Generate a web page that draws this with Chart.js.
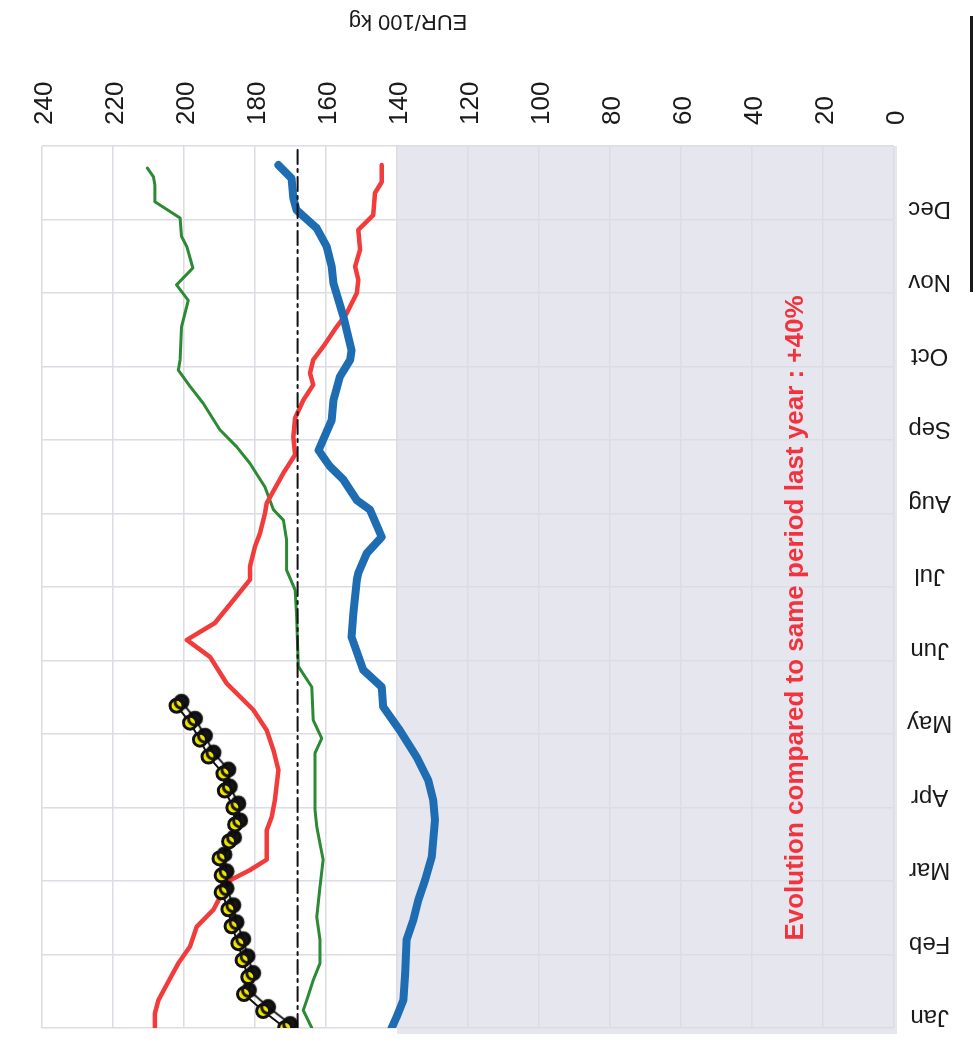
<!DOCTYPE html>
<html>
<head>
<meta charset="utf-8">
<script src="https://cdn.jsdelivr.net/npm/chart.js@4.4.1/dist/chart.umd.min.js"></script>
<style>
  html, body { margin: 0; padding: 0; background: #fff; }
  #wrap { position: relative; width: 977px; height: 1046px; }
  #edge { position: absolute; left: 970px; top: 16px; width: 3px; height: 276px; background: #1a1a1a; }
</style>
</head>
<body>
<div id="wrap">
  <canvas id="chart" width="977" height="1046"></canvas>
  <div id="edge"></div>
</div>
<script>
// the scan is upside down: months run up the right side, prices along the top
const MONTHS = ['Jan', 'Feb', 'Mar', 'Apr', 'May', 'Jun', 'Jul', 'Aug', 'Sep', 'Oct', 'Nov', 'Dec'];
const UNIT = 'EUR/100 kg';
const NOTE = 'Evolution compared to same period last year : +40%';
const REFERENCE_PRICE = 168;
const SHADED_UP_TO = 140;

// current year, weekly (week 1 = start of Jan)
const yellowWeek = [1, 2, 3, 4, 5, 6, 7, 8, 9, 10, 11, 12, 13, 14, 15, 16, 17, 18, 19, 20];
const yellowPrice = [171.5, 177.7, 183.1, 181.9, 183.5, 184.7, 186.6, 187.5, 189.4, 189.4,
  190.0, 187.3, 185.6, 186.1, 188.5, 188.9, 193.1, 195.5, 198.3, 202.1];

// positions in months (0 = 1 Jan, 12 = 31 Dec)
const blueMonth = [0, 0.15, 0.38, 0.74, 1.2, 1.47, 1.74, 2.01, 2.33, 2.83, 3.1, 3.37, 3.69, 4.05,
  4.37, 4.64, 4.87, 5.32, 5.64, 6.1, 6.19, 6.46, 6.68, 7.05, 7.18, 7.46, 7.64, 7.86, 8.27, 8.54,
  8.86, 9.09, 9.22, 9.68, 10.13, 10.36, 10.63, 10.88, 11.13, 11.29, 11.56, 11.74];
const bluePrice = [141.5, 140.1, 138.2, 137.7, 137.3, 135.4, 134.0, 132.1, 130.2, 129.3, 129.8,
  131.2, 134.5, 139.2, 143.9, 144.3, 149.5, 152.8, 152.3, 151.3, 150.9, 148.5, 144.3, 147.6,
  151.3, 155.1, 158.9, 162.1, 158.4, 157.9, 156.1, 153.2, 152.8, 155.1, 157.9, 158.4, 159.8,
  162.6, 168.3, 169.2, 169.7, 173.4];

const redMonth = [0, 0.2, 0.38, 0.65, 0.88, 1.11, 1.38, 1.61, 1.74, 2.01, 2.15, 2.29, 2.69, 2.87,
  3.1, 3.51, 3.78, 4.05, 4.33, 4.69, 5.05, 5.28, 5.51, 5.82, 6.1, 6.28, 6.55, 6.73, 7.0, 7.14,
  7.55, 7.8, 8.04, 8.3, 8.54, 8.75, 8.91, 9.09, 9.27, 9.54, 9.72, 10.0, 10.18, 10.36, 10.59,
  10.86, 11.06, 11.36, 11.51, 11.74];
const redPrice = [208.2, 208.2, 207.2, 204.2, 201.6, 198.3, 196.4, 191.7, 190.3, 187.0, 181.4,
  176.7, 176.7, 175.3, 174.4, 173.4, 174.8, 176.7, 180.5, 188.0, 192.7, 199.2, 191.3, 186.1,
  181.4, 181.4, 180.0, 178.6, 177.2, 176.7, 172.0, 168.7, 169.2, 168.7, 166.4, 163.6, 164.5,
  163.6, 160.8, 157.0, 154.2, 151.3, 150.9, 151.8, 150.4, 150.9, 146.7, 146.2, 144.3, 144.3];

const greenMonth = [0, 0.24, 0.38, 0.65, 0.88, 1.2, 1.51, 1.92, 2.29, 2.51, 2.74, 2.97, 3.74, 3.94,
  4.19, 4.64, 4.92, 5.64, 5.96, 6.23, 6.64, 6.91, 7.05, 7.36, 7.68, 7.91, 8.14, 8.5, 8.73, 8.95,
  9.09, 9.54, 9.9, 10.11, 10.34, 10.63, 10.77, 11.02, 11.24, 11.47, 11.58, 11.7];
const greenPrice = [164.0, 166.4, 165.4, 163.6, 161.7, 161.7, 162.6, 161.7, 160.8, 161.7, 162.6,
  163.1, 163.1, 161.2, 163.6, 164.0, 167.8, 168.3, 168.7, 171.1, 171.1, 172.0, 174.8, 177.2,
  181.4, 185.2, 189.9, 194.6, 198.3, 201.6, 201.1, 200.7, 198.8, 202.1, 197.5, 199.2, 200.7,
  201.1, 208.2, 208.2, 208.6, 210.3];

const toPoints = (months, prices) => months.map((m, i) => ({ x: prices[i], y: m }));
const weekToMonth = (w) => (w - 1) * 12 / 52;

const GRID = '#dcdce4';
const FONT = 'Liberation Sans';

const shadedBand = {
  id: 'shadedBand',
  beforeDraw(chart) {
    const { ctx, chartArea, scales } = chart;
    const a = scales.x.getPixelForValue(0);
    const b = scales.x.getPixelForValue(SHADED_UP_TO);
    ctx.save();
    ctx.fillStyle = '#e6e6ef';
    ctx.fillRect(Math.min(a, b), chartArea.top, Math.abs(a - b) + 3, chartArea.bottom - chartArea.top + 6);
    ctx.restore();
  },
};

const markerShadow = {
  id: 'markerShadow',
  beforeDatasetDraw(chart, args) {
    if (args.index !== 0) return;
    const ctx = chart.ctx;
    ctx.save();
    ctx.shadowColor = 'rgba(10,10,10,0.95)';
    ctx.shadowOffsetX = 5;
    ctx.shadowOffsetY = -4;
    ctx.shadowBlur = 1;
  },
  afterDatasetDraw(chart, args) {
    if (args.index === 0) chart.ctx.restore();
  },
};

const texts = {
  id: 'texts',
  afterDraw(chart) {
    const ctx = chart.ctx;
    ctx.save();
    // axis unit, upside down like the scan
    ctx.translate(408, 21);
    ctx.rotate(Math.PI);
    ctx.font = `22px "${FONT}"`;
    ctx.fillStyle = '#1a1a1a';
    ctx.textAlign = 'center';
    ctx.textBaseline = 'middle';
    ctx.fillText(UNIT, 0, 0);
    ctx.restore();

    ctx.save();
    ctx.font = `bold 20px "${FONT}"`;
    const size = 20 * 645 / ctx.measureText(NOTE).width;
    ctx.font = `bold ${size.toFixed(1)}px "${FONT}"`;
    ctx.translate(796, 618);
    ctx.rotate(-Math.PI / 2);
    ctx.fillStyle = '#f2333d';
    ctx.textAlign = 'center';
    ctx.textBaseline = 'middle';
    ctx.fillText(NOTE, 0, 0);
    ctx.restore();
  },
};

new Chart(document.getElementById('chart'), {
  type: 'line',
  data: {
    datasets: [
      {
        label: 'current',
        data: toPoints(yellowWeek.map(weekToMonth), yellowPrice),
        borderColor: '#111',
        borderWidth: 2,
        pointRadius: 6.5,
        pointBorderWidth: 3,
        pointBackgroundColor: '#f2e600',
        pointBorderColor: '#111',
        order: 0,
      },
      {
        label: 'reference',
        data: [{ x: REFERENCE_PRICE, y: 0 }, { x: REFERENCE_PRICE, y: 12 }],
        borderColor: '#111',
        borderWidth: 2,
        borderDash: [14, 5, 3, 5],
        order: 1,
      },
      { label: 'blue', data: toPoints(blueMonth, bluePrice), borderColor: '#1e6db3', borderWidth: 8, order: 2 },
      { label: 'red', data: toPoints(redMonth, redPrice), borderColor: '#f23b3b', borderWidth: 4.5, order: 3 },
      { label: 'green', data: toPoints(greenMonth, greenPrice), borderColor: '#2c8a34', borderWidth: 3, order: 4 },
    ],
  },
  options: {
    responsive: false,
    animation: false,
    layout: { padding: { left: 42, right: 0, top: 0, bottom: 18 } },
    plugins: { legend: { display: false }, tooltip: { enabled: false } },
    elements: {
      point: { radius: 0 },
      line: { tension: 0, borderCapStyle: 'round', borderJoinStyle: 'round', fill: false },
    },
    scales: {
      x: {
        type: 'linear',
        position: 'top',
        reverse: true,
        min: 0,
        max: 240,
        grid: { color: GRID, lineWidth: 1.5, drawTicks: false },
        border: { display: false },
        ticks: {
          stepSize: 20,
          autoSkip: false,
          minRotation: 90,
          maxRotation: 90,
          padding: 21,
          labelOffset: 34,
          color: '#1a1a1a',
          font: { family: FONT, size: 26 },
        },
        afterFit: (scale) => {
          scale.height = 146;
          scale.paddingLeft = 0;
          scale.paddingRight = 0;
        },
      },
      y: {
        type: 'linear',
        position: 'right',
        min: 0,
        max: 12,
        grid: { color: GRID, lineWidth: 1.5, drawTicks: false },
        border: { display: false },
        ticks: {
          stepSize: 1,
          autoSkip: false,
          minRotation: 180,
          maxRotation: 180,
          crossAlign: 'center',
          padding: 13,
          labelOffset: -11,
          color: '#1a1a1a',
          font: { family: FONT, size: 24 },
          callback: (value) => MONTHS[value] ?? '',
        },
        afterFit: (scale) => {
          scale.width = 83;
          scale.paddingTop = 0;
          scale.paddingBottom = 0;
        },
      },
    },
  },
  plugins: [shadedBand, markerShadow, texts],
});
</script>
</body>
</html>
